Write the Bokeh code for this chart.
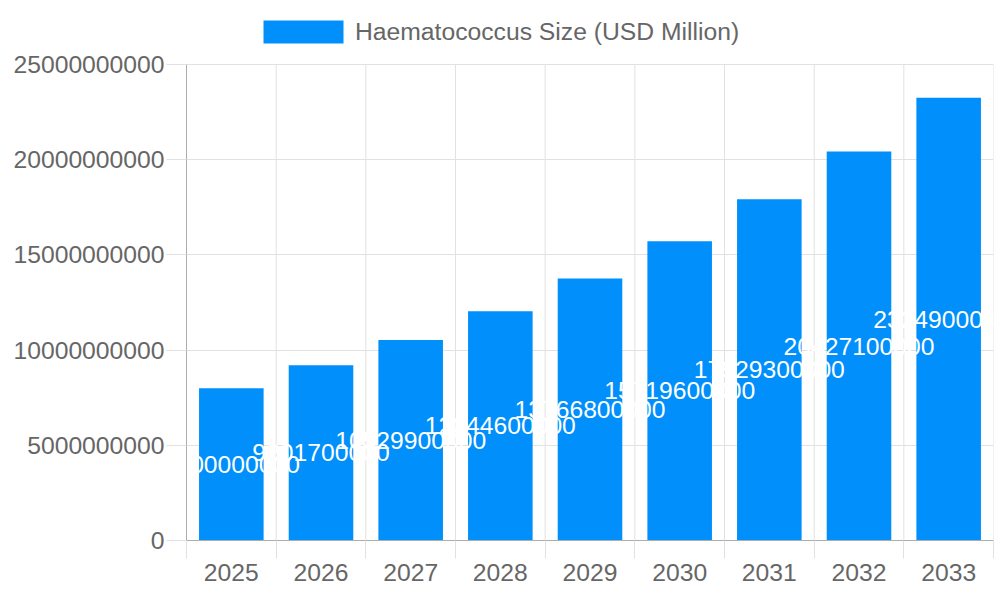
from bokeh.plotting import figure
from bokeh.models import ColumnDataSource, FixedTicker, Range1d, Legend, LegendItem
from bokeh.embed import file_html
from bokeh.resources import INLINE
from bokeh.core.properties import value

# ---- data ----
years = ["2025", "2026", "2027", "2028", "2029", "2030", "2031", "2032", "2033"]
sizes = [8000000000, 9201700000, 10529900000, 12044600000, 13766800000,
         15719600000, 17929300000, 20427100000, 23249000000]
y_ticks = [0, 5000000000, 10000000000, 15000000000, 20000000000, 25000000000]
y_tick_labels = ["0", "5000000000", "10000000000", "15000000000", "20000000000", "25000000000"]
series_name = "Haematococcus Size (USD Million)"

FONT = "Liberation Sans"
FS = "24.7px"
GREY = "#666666"
GRID = "#e1e1e1"
AXIS = "#adadad"
BAR = "#008ffb"

n = len(years)
xs = [i + 0.5 for i in range(n)]
bounds_x = list(range(n + 1))
src = ColumnDataSource(dict(
    x=xs,
    top=sizes,
    mid=[v / 2 for v in sizes],
    label=[str(v) for v in sizes],
))

# frame spans the full canvas height above the x axis; the value axis covers 0..25e9
FRAME_H = 540
AXIS_H = 476
y_top = y_ticks[-1] * FRAME_H / AXIS_H

p = figure(width=994, height=592,
           x_range=Range1d(0, n), y_range=Range1d(0, y_top),
           output_backend="svg", toolbar_location=None,
           min_border_left=186, min_border_right=1,
           min_border_top=0, min_border_bottom=52)
p.outline_line_color = None
p.background_fill_color = "white"
p.border_fill_color = "white"

# vertical grid lines limited to the value range
p.segment(x0=bounds_x, x1=bounds_x, y0=[y_ticks[0]] * len(bounds_x),
          y1=[y_ticks[-1]] * len(bounds_x), line_color=GRID, line_width=1)

bars = p.vbar(x="x", top="top", bottom=0, width=0.72, source=src,
              fill_color=BAR, line_color=None)

p.text(x="x", y="mid", text="label", source=src,
       text_align="center", text_baseline="middle",
       text_color="white", text_font_size=FS, text_font=value(FONT))

# x axis
p.xaxis.ticker = FixedTicker(ticks=xs, minor_ticks=bounds_x)
p.xaxis.major_label_overrides = {x: y for x, y in zip(xs, years)}
p.xaxis.major_tick_line_color = None
p.xaxis.minor_tick_in = 0
p.xaxis.minor_tick_out = 18
p.xaxis.minor_tick_line_color = GRID
p.xaxis.axis_line_color = AXIS
p.xaxis.major_label_text_font = FONT
p.xaxis.major_label_text_font_size = FS
p.xaxis.major_label_text_color = GREY
p.xaxis.major_label_standoff = 5
p.xgrid.visible = False

# y axis
p.yaxis.ticker = FixedTicker(ticks=y_ticks)
p.yaxis.bounds = (y_ticks[0], y_ticks[-1])
p.yaxis.major_label_overrides = {t: l for t, l in zip(y_ticks, y_tick_labels)}
p.yaxis.major_tick_in = 0
p.yaxis.major_tick_out = 20
p.yaxis.major_tick_line_color = GRID
p.yaxis.minor_tick_line_color = None
p.yaxis.axis_line_color = AXIS
p.yaxis.major_label_text_font = FONT
p.yaxis.major_label_text_font_size = FS
p.yaxis.major_label_text_color = GREY
p.yaxis.major_label_standoff = 2
p.ygrid.grid_line_color = GRID

legend = Legend(items=[LegendItem(label=series_name, renderers=[bars])],
                location=(67, 494), orientation="horizontal",
                glyph_width=100, glyph_height=29, label_height=29,
                label_text_font_size=FS, label_text_color=GREY,
                label_text_font=FONT, label_standoff=2,
                padding=0, margin=0, border_line_color=None,
                background_fill_alpha=0)
p.add_layout(legend, "center")

open("out.html", "w").write(file_html(p, INLINE))
